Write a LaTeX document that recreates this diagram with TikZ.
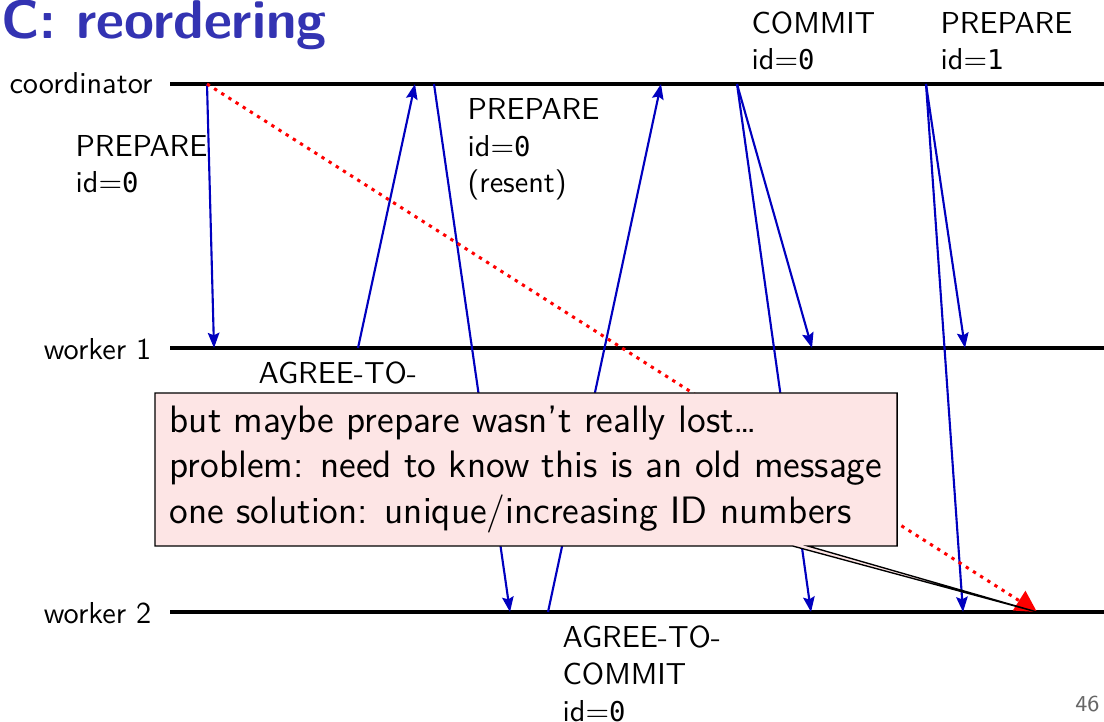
\documentclass[tikz,border=0pt]{standalone}
\usepackage{fontspec}
\newfontfamily\dvmono[Scale=0.9]{DejaVu Sans Mono}
\usetikzlibrary{arrows.meta,shapes.callouts}
\definecolor{msgblue}{RGB}{0,0,191}
\definecolor{titleblue}{RGB}{51,51,178}
\definecolor{notepink}{RGB}{253,229,229}
\newcommand{\idv}[1]{id$=$\mbox{\dvmono #1}}
\begin{document}
\begin{tikzpicture}[x=0.33pt,y=-0.33pt,
  every node/.style={inner sep=0pt, font=\fontsize{10}{12.2}\selectfont\sffamily},
  timeline/.style={line width=1.1pt, draw=black},
  msg/.style={draw=msgblue, line width=0.7pt, -{Stealth[length=5pt,width=3.8pt,inset=0.8pt,fill=msgblue]}},
  lost/.style={draw=red, line width=1pt, dash pattern=on 1.1pt off 1.7pt, -{Triangle[length=7pt,width=7.5pt,fill=red]}},
  lbl/.style={anchor=base west, align=left},
  proc/.style={anchor=base east},
  note/.style={rectangle callout, draw=black, line width=0.45pt, fill=notepink,
    callout pointer width=5pt, inner xsep=4.8pt, inner ysep=4pt,
    minimum width=244.9pt, minimum height=50.5pt, align=left,
    font=\fontsize{12.6}{14.9}\selectfont\sffamily}
]
\useasboundingbox (0,0) rectangle (1104,722);

% title and page number
\node[anchor=base west, text=titleblue, font=\fontsize{18}{21}\selectfont\sffamily\bfseries] (title) at (1,39) {C: reordering};
\node[anchor=base east, text=black!60, font=\fontsize{7.5}{9}\selectfont\sffamily] (page) at (1100,711) {46};

% timelines
\coordinate (cL) at (170,84);  \coordinate (cR) at (1104,84);
\coordinate (w1L) at (170,348); \coordinate (w1R) at (1104,348);
\coordinate (w2L) at (170,612); \coordinate (w2R) at (1104,612);
\draw[timeline] (cL) -- (cR);
\draw[timeline] (w1L) -- (w1R);
\draw[timeline] (w2L) -- (w2R);

\node[proc] (lc) at (153,94) {coordinator};
\node[proc] (lw1) at (152,359) {worker 1};
\node[proc] (lw2) at (152,623) {worker 2};

% message endpoints
\coordinate (p0s) at (207,84);  \coordinate (p0e) at (214,348);
\coordinate (a1s) at (358,348); \coordinate (a1e) at (415,84);
\coordinate (p1s) at (434,84);  \coordinate (p1e) at (510,612);
\coordinate (a2s) at (548,612); \coordinate (a2e) at (661,84);
\coordinate (cms) at (737,84);  \coordinate (cm1) at (812,348); \coordinate (cm2) at (811,612);
\coordinate (q1s) at (926,84);  \coordinate (q1a) at (965,348); \coordinate (q1b) at (963,612);
\coordinate (lostend) at (1037,612);

% messages
\draw[msg] (p0s) -- (p0e);
\draw[msg] (a1s) -- (a1e);
\draw[msg] (p1s) -- (p1e);
\draw[msg] (a2s) -- (a2e);
\draw[msg] (cms) -- (cm1);
\draw[msg] (cms) -- (cm2);
\draw[msg] (q1s) -- (q1a);
\draw[msg] (q1s) -- (q1b);
\draw[lost] (p0s) -- (lostend);

% message labels (base anchor = baseline of the last line)
\node[lbl] (t1) at (75,193) {PREPARE\\\idv{0}};
\node[lbl] (t2) at (467,193) {PREPARE\\\idv{0}\\(resent)};
\node[lbl] (t3) at (751,70) {COMMIT\\\idv{0}};
\node[lbl] (t4) at (940,70) {PREPARE\\\idv{1}};
\node[lbl] (t5) at (258,383) {AGREE-TO-};
\node[lbl] (t6) at (562,721) {AGREE-TO-\\COMMIT\\\idv{0}};

% note
\node[note, callout absolute pointer={(lostend)}] (box) at (526,469.5)
  {but maybe prepare wasn’t really lost\ldots\\problem: need to know this is an old message\\one solution: unique/increasing ID numbers};
\end{tikzpicture}
\end{document}
